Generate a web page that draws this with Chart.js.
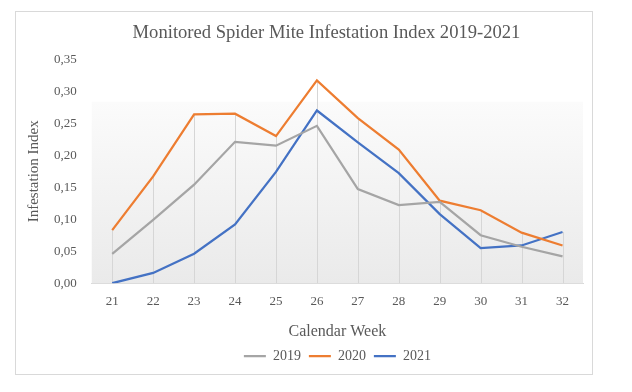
<!DOCTYPE html>
<html>
<head>
<meta charset="utf-8">
<script src="https://cdn.jsdelivr.net/npm/chart.js@4/dist/chart.umd.min.js"></script>
<style>
  body{ margin:0; background:#fff; }
  #box{ position:absolute; left:15px; top:11px; width:576px; height:362px; border:1px solid #d9d9d9; }
  #c{ position:absolute; left:16px; top:12px; display:block; }
</style>
</head>
<body>
<div id="box"></div>
<canvas id="c" width="612" height="362"></canvas>
<script>
var weeks = ['21','22','23','24','25','26','27','28','29','30','31','32'];
var y2019 = [0.046, 0.099, 0.154, 0.221, 0.215, 0.246, 0.147, 0.122, 0.127, 0.075, 0.057, 0.042];
var y2020 = [0.083, 0.167, 0.264, 0.265, 0.230, 0.317, 0.258, 0.209, 0.129, 0.114, 0.079, 0.059];
var y2021 = [0.000, 0.016, 0.046, 0.092, 0.174, 0.270, 0.220, 0.172, 0.108, 0.055, 0.059, 0.080];

var textCol = '#595959';
var fontFam = '"Liberation Serif", "Times New Roman", serif';

// plot area fill (light gray gradient) + drop lines from the highest point to the axis
var plotBg = {
  id: 'plotBg',
  beforeDatasetsDraw: function(chart){
    var a = chart.chartArea, ctx = chart.ctx;
    var h = a.bottom - a.top;
    var top = a.top + h * 0.19;
    var g = ctx.createLinearGradient(0, top, 0, a.bottom);
    g.addColorStop(0, '#fbfbfb');
    g.addColorStop(1, '#eaeaea');
    ctx.save();
    ctx.fillStyle = g;
    ctx.fillRect(a.left, top, a.right - a.left, a.bottom - top);

    var xs = chart.scales.x, ys = chart.scales.y;
    ctx.strokeStyle = '#d6d6d6';
    ctx.lineWidth = 1;
    for(var i = 0; i < weeks.length; i++){
      var hi = Math.max(y2019[i], y2020[i], y2021[i]);
      var px = Math.round(xs.getPixelForValue(i)) + 0.5;
      ctx.beginPath();
      ctx.moveTo(px, ys.getPixelForValue(hi));
      ctx.lineTo(px, ys.getPixelForValue(0));
      ctx.stroke();
    }
    ctx.restore();
  }
};

function mkSet(label, data, col){
  return { label: label, data: data, borderColor: col, backgroundColor: col,
           borderWidth: 2.25, pointRadius: 0, pointStyle: 'line', tension: 0, fill: false };
}

new Chart(document.getElementById('c'), {
  type: 'line',
  data: {
    labels: weeks,
    datasets: [
      mkSet('2019', y2019, '#a5a5a5'),
      mkSet('2020', y2020, '#ed7d31'),
      mkSet('2021', y2021, '#4472c4')
    ]
  },
  plugins: [plotBg],
  options: {
    responsive: false,
    animation: false,
    layout: { padding: { left: 9, right: 0, top: 8, bottom: 1 } },
    plugins: {
      title: { display: true, text: 'Monitored Spider Mite Infestation Index 2019-2021',
               color: textCol, font: { family: fontFam, size: 18.6, weight: 'normal' },
               padding: { top: 2, bottom: 15 } },
      legend: { position: 'bottom', fullSize: false,
                labels: { color: textCol, font: { family: fontFam, size: 14 },
                          usePointStyle: true, pointStyleWidth: 22, boxHeight: 6, padding: 8 } },
      tooltip: { enabled: false }
    },
    scales: {
      x: {
        offset: true,
        grid: { display: false, drawTicks: false },
        border: { display: true, color: '#d9d9d9' },
        ticks: { color: textCol, font: { family: fontFam, size: 13 }, padding: 11 },
        title: { display: true, text: 'Calendar Week', color: textCol,
                 font: { family: fontFam, size: 16 }, padding: { top: 1, bottom: 0 } }
      },
      y: {
        min: 0, max: 0.35,
        grid: { display: false, drawTicks: false },
        border: { display: false },
        ticks: { stepSize: 0.05, color: textCol, font: { family: fontFam, size: 13 }, padding: 15,
                 callback: function(v){ return v.toFixed(2).replace('.', ','); } },
        title: { display: true, text: 'Infestation Index', color: textCol,
                 font: { family: fontFam, size: 15 }, padding: { top: 0, bottom: 2 } },
        afterFit: function(s){ s.width -= 6; }
      },
      // empty right-hand axis, only keeps the plot inside the frame
      yR: {
        position: 'right',
        display: true,
        grid: { display: false, drawTicks: false },
        border: { display: false },
        ticks: { display: false },
        afterFit: function(s){ s.width = 45; }
      }
    }
  }
});
</script>
</body>
</html>
